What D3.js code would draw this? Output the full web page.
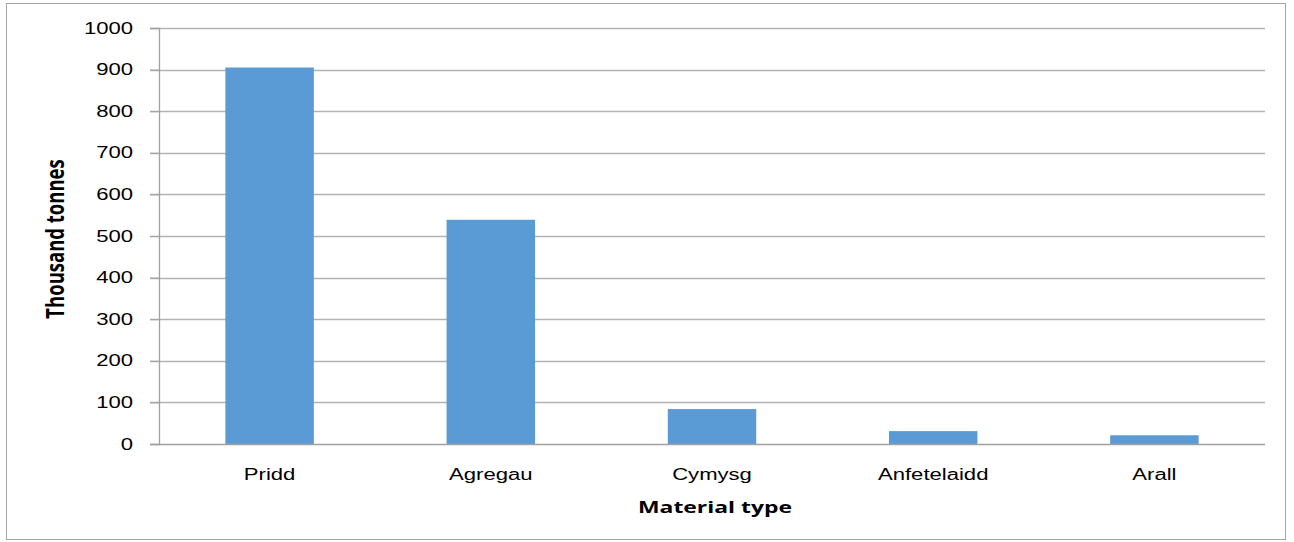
<!DOCTYPE html>
<html>
<head>
<meta charset="utf-8">
<script src="https://cdn.jsdelivr.net/npm/d3@7"></script>
<style>
  body { margin: 0; background: #fff; }
  svg { font-family: "Open Sans", "Liberation Sans", sans-serif; }
</style>
</head>
<body>
<div id="chart"></div>
<script>
const categories = ["Pridd", "Agregau", "Cymysg", "Anfetelaidd", "Arall"];
const values = [905, 539, 84, 31, 21];
const yTicks = [0, 100, 200, 300, 400, 500, 600, 700, 800, 900, 1000];

const W = 1294, H = 542;
const margin = { top: 28, right: 29, bottom: 98, left: 159 };
const width = W - margin.left - margin.right;
const height = H - margin.top - margin.bottom;
// the reference text is stretched sideways
const stretch = 1.38;

const svg = d3.select("#chart").append("svg")
    .attr("width", W)
    .attr("height", H);

// outer frame
svg.append("rect")
    .attr("x", 6.5).attr("y", 3.5)
    .attr("width", 1279).attr("height", 536)
    .attr("fill", "none")
    .attr("stroke", "#a6a6a6");

const g = svg.append("g")
    .attr("transform", "translate(" + margin.left + "," + margin.top + ")");

const x = d3.scaleBand()
    .domain(categories)
    .range([0, width])
    .paddingInner(0.6)
    .paddingOuter(0.3);

const y = d3.scaleLinear()
    .domain([0, 1000])
    .range([height, 0]);

function stretchText(sel) {
    sel.each(function() {
        const t = d3.select(this);
        const tx = +t.attr("x") || 0;
        t.attr("x", 0)
         .attr("transform", "translate(" + tx + ",0) scale(" + stretch + ",1)");
    });
}

// gridlines
g.append("g")
    .selectAll("line")
    .data(yTicks.filter(d => d > 0))
    .enter().append("line")
    .attr("x1", -9)
    .attr("x2", width)
    .attr("y1", d => Math.round(y(d)) + 0.5)
    .attr("y2", d => Math.round(y(d)) + 0.5)
    .attr("stroke", "#b3b3b3")
    .attr("stroke-width", 1.3);

// y axis
const yAxis = g.append("g")
    .call(d3.axisLeft(y).tickValues(yTicks).tickFormat(d3.format("d")).tickSize(9).tickPadding(17));
yAxis.select(".domain").attr("stroke", "#a0a0a0").attr("stroke-width", 1.3);
yAxis.selectAll(".tick line").attr("stroke", "#a0a0a0");
yAxis.selectAll("text")
    .style("font-size", "16px")
    .attr("fill", "#000")
    .call(stretchText);

// bars
g.selectAll(".bar")
    .data(values)
    .enter().append("rect")
    .attr("class", "bar")
    .attr("x", (d, i) => x(categories[i]))
    .attr("y", d => y(d))
    .attr("width", x.bandwidth())
    .attr("height", d => height - y(d))
    .attr("fill", "#5b9bd5");

// x axis
const xAxis = g.append("g")
    .attr("transform", "translate(0," + height + ")")
    .call(d3.axisBottom(x).tickSize(0).tickPadding(25));
xAxis.select(".domain").remove();
g.append("line")
    .attr("x1", -9).attr("x2", width)
    .attr("y1", height + 0.5).attr("y2", height + 0.5)
    .attr("stroke", "#a0a0a0").attr("stroke-width", 1.3);
xAxis.selectAll("text")
    .style("font-size", "16px")
    .attr("fill", "#000")
    .call(stretchText);

// axis titles
svg.append("text")
    .attr("transform", "translate(" + (margin.left + width / 2 + 3) + ",513) scale(" + stretch + ",1)")
    .attr("text-anchor", "middle")
    .style("font-size", "16.6px")
    .style("font-weight", "bold")
    .text("Material type");

svg.append("text")
    .attr("transform", "translate(64,239) scale(" + stretch + ",1) rotate(-90)")
    .attr("text-anchor", "middle")
    .style("font-size", "18.5px")
    .style("font-weight", "bold")
    .text("Thousand tonnes");
</script>
</body>
</html>
